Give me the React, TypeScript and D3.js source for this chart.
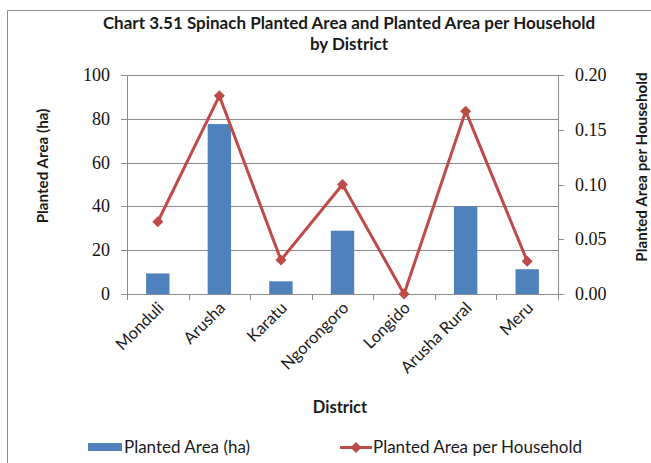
import React from "react";
import * as d3 from "d3";

const districts = ["Monduli", "Arusha", "Karatu", "Ngorongoro", "Longido", "Arusha Rural", "Meru"];
const plantedArea = [9.4, 77.6, 5.8, 28.9, 0, 40, 11.3];
const areaPerHousehold = [0.066, 0.181, 0.031, 0.1, 0, 0.167, 0.03];
const leftTicks = [0, 20, 40, 60, 80, 100];
const rightTicks = [0, 0.05, 0.1, 0.15, 0.2];

const W = 651, H = 463;
const M = { left: 127, right: 558, top: 75, bottom: 294 };
const sans = "Lato, 'Open Sans', sans-serif";
const serif = "'Liberation Serif', 'DejaVu Serif', serif";
const barColor = "#4F81BD";
const lineColor = "#BE4B48";
const gridColor = "#8C8C8C";

export default function App() {
  const x = d3.scaleBand<string>().domain(districts).range([M.left, M.right]).paddingInner(0).paddingOuter(0);
  const yL = d3.scaleLinear().domain([0, 100]).range([M.bottom, M.top]);
  const yR = d3.scaleLinear().domain([0, 0.2]).range([M.bottom, M.top]);
  const bw = x.bandwidth() * 0.38;
  const cx = (d: string) => (x(d) as number) + x.bandwidth() / 2;
  const line = d3.line<number>().x((_, i) => cx(districts[i])).y((v) => yR(v));
  const diamond = (px: number, py: number, r = 5.5) =>
    `M${px},${py - r}L${px + r},${py}L${px},${py + r}L${px - r},${py}Z`;
  const boundaries = d3.range(districts.length + 1).map((i) => M.left + i * x.step());

  return (
    <svg width={W} height={H} style={{ position: "absolute", left: 0, top: 0, background: "#fff" }}>
      <rect x={0} y={0} width={W} height={H} fill="#fff" />
      <path d={`M7.5,${H}V10.5H${W}`} fill="none" stroke="#8C8C8C" strokeWidth={1} />
      <text x={349} y={29} textAnchor="middle" fontFamily={sans} fontWeight="bold" fontSize={17} fill="#1a1a1a">
        Chart 3.51 Spinach Planted Area and Planted Area per Household
      </text>
      <text x={349} y={50} textAnchor="middle" fontFamily={sans} fontWeight="bold" fontSize={17} fill="#1a1a1a">
        by District
      </text>
      {leftTicks.map((t) => (
        <g key={"l" + t}>
          <line x1={M.left - 6} x2={M.right} y1={Math.round(yL(t)) + 0.5} y2={Math.round(yL(t)) + 0.5} stroke={gridColor} strokeWidth={1} />
          <text x={110} y={yL(t) + 6} textAnchor="end" fontFamily={serif} fontSize={18} fill="#111">{t}</text>
        </g>
      ))}
      {rightTicks.map((t) => (
        <g key={"r" + t}>
          <line x1={M.right} x2={M.right + 6} y1={Math.round(yR(t)) + 0.5} y2={Math.round(yR(t)) + 0.5} stroke={gridColor} strokeWidth={1} />
          <text x={575} y={yR(t) + 6} textAnchor="start" fontFamily={serif} fontSize={18} fill="#111">{t.toFixed(2)}</text>
        </g>
      ))}
      <line x1={M.left + 0.5} x2={M.left + 0.5} y1={M.top} y2={M.bottom + 6} stroke={gridColor} />
      <line x1={M.right + 0.5} x2={M.right + 0.5} y1={M.top} y2={M.bottom + 6} stroke={gridColor} />
      {boundaries.map((b, i) => (
        <line key={"b" + i} x1={Math.round(b) + 0.5} x2={Math.round(b) + 0.5} y1={M.bottom} y2={M.bottom + 6} stroke={gridColor} />
      ))}
      {districts.map((d, i) => (
        <rect key={d} x={cx(d) - bw / 2} y={yL(plantedArea[i])} width={bw} height={M.bottom - yL(plantedArea[i])} fill={barColor} />
      ))}
      <path d={line(areaPerHousehold) || ""} fill="none" stroke={lineColor} strokeWidth={3} strokeLinejoin="round" />
      {areaPerHousehold.map((v, i) => (
        <path key={"m" + i} d={diamond(cx(districts[i]), yR(v))} fill={lineColor} />
      ))}
      {districts.map((d) => (
        <text key={"t" + d} transform={`translate(${cx(d) + 7},${M.bottom + 15}) rotate(-45)`} textAnchor="end" fontFamily={sans} fontSize={16.5} fill="#1a1a1a">
          {d}
        </text>
      ))}
      <text transform={`translate(48,166) rotate(-90)`} textAnchor="middle" fontFamily={sans} fontWeight="bold" fontSize={15.2} fill="#1a1a1a">
        Planted Area (ha)
      </text>
      <text transform={`translate(647,167) rotate(-90)`} textAnchor="middle" fontFamily={sans} fontWeight="bold" fontSize={15.2} fill="#1a1a1a">
        Planted Area per Household
      </text>
      <text x={340} y={413} textAnchor="middle" fontFamily={sans} fontWeight="bold" fontSize={16.5} fill="#1a1a1a">
        District
      </text>
      <rect x={88} y={443} width={34} height={8} fill={barColor} />
      <text x={124} y={453} fontFamily={sans} fontSize={17} fill="#1a1a1a">Planted Area (ha)</text>
      <line x1={340} x2={372} y1={447.5} y2={447.5} stroke={lineColor} strokeWidth={3} />
      <path d={diamond(356, 447.5, 5.5)} fill={lineColor} />
      <text x={373} y={453} fontFamily={sans} fontSize={17} fill="#1a1a1a">Planted Area per Household</text>
    </svg>
  );
}
